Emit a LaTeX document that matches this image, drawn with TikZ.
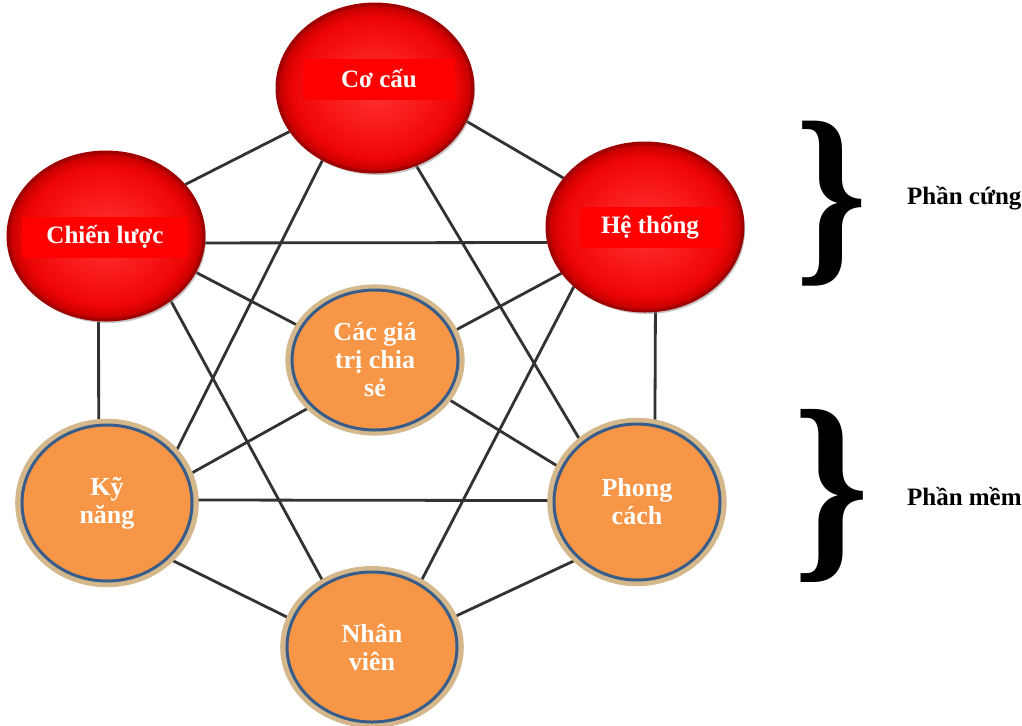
\documentclass[tikz,border=0pt]{standalone}
\usepackage{fontspec}
\setmainfont{Liberation Serif}
\usetikzlibrary{shapes.geometric, shadows, backgrounds}

\definecolor{rimred}{RGB}{160,0,0}
\definecolor{bandred}{RGB}{255,0,0}
\definecolor{ballorange}{RGB}{247,150,70}
\definecolor{rimblue}{RGB}{56,93,138}
\definecolor{ringtan}{RGB}{212,184,140}
\definecolor{linkgray}{RGB}{50,50,50}

\pgfdeclareradialshading{redglossy}{\pgfpoint{0bp}{0bp}}{%
  rgb(0bp)=(1,0.2,0.2); rgb(14bp)=(0.97,0.08,0.08); rgb(21bp)=(0.93,0.02,0.02);
  rgb(24bp)=(0.8,0,0); rgb(25bp)=(0.65,0,0); rgb(50bp)=(0.65,0,0)}

\begin{document}
\begin{tikzpicture}[
    x=0.5pt, y=-0.5pt,
    redball/.style={ellipse, inner sep=0pt, minimum width=98pt, minimum height=84pt,
                    draw=rimred, line width=1.5pt, shading=redglossy,
                    drop shadow={shadow xshift=1pt, shadow yshift=-1.5pt,
                                 fill=black!45, opacity=.5}},
    band/.style={fill=bandred, text=white, inner sep=0pt, minimum height=20.5pt,
                 font=\fontsize{12.5}{14}\selectfont\bfseries},
    orangeball/.style={ellipse, inner sep=0pt, fill=ballorange, draw=rimblue,
                       line width=1.5pt, text=white, align=center,
                       font=\fontsize{13}{14}\selectfont\bfseries,
                       drop shadow={shadow scale=1.08, shadow xshift=0pt,
                                    shadow yshift=0pt, fill=ringtan, opacity=1}},
    link/.style={draw=linkgray, line width=1.4pt},
    side/.style={font=\fontsize{12.5}{14}\selectfont\bfseries, anchor=west}
  ]
  \useasboundingbox (0,0) rectangle (1022,725);

  % Hard part
  \node[redball] (cocau) at (375,88) {};
  \node[redball] (chienluoc) at (106,236) {};
  \node[redball] (hethong) at (645,227) {};
  \node[band, minimum width=76pt] (cocau-t) at (379,79) {Cơ cấu};
  \node[band, minimum width=83pt] (chienluoc-t) at (105,237) {Chiến lược};
  \node[band, minimum width=70.5pt] (hethong-t) at (650,227) {Hệ thống};

  % Soft part
  \node[orangeball, minimum width=83pt, minimum height=70pt] (giatri) at (375,360)
    {Các giá\\trị chia\\sẻ};
  \node[orangeball, minimum width=85pt, minimum height=78pt] (kynang) at (107,503)
    {Kỹ\\năng};
  \node[orangeball, minimum width=83pt, minimum height=78pt] (phongcach) at (637,502)
    {Phong\\cách};
  \node[orangeball, minimum width=85pt, minimum height=75pt] (nhanvien) at (372,647)
    {Nhân\\viên};

  % Links
  \begin{scope}[on background layer]
    \fill[white] (0,0) rectangle (1022,725);
    \foreach \a/\b in {chienluoc.33/cocau.207, cocau.340/hethong.149,
                       chienluoc.356/hethong.189, chienluoc.338/giatri.156,
                       hethong.209/giatri.20, chienluoc.265/kynang.96,
                       hethong.277/phongcach.77, cocau.234/kynang.36,
                       cocau.298/phongcach.133, chienluoc.315/nhanvien.127,
                       hethong.220/nhanvien.53, kynang.2/phongcach.179,
                       kynang.19/giatri.216, giatri.332/phongcach.156,
                       kynang.318/nhanvien.161, phongcach.224/nhanvien.20}
      \draw[link] (\a) -- (\b);
  \end{scope}

  % Braces
  \node[inner sep=0pt] (brace-hard) at (832,204) {\resizebox*{36pt}{82.5pt}{\bfseries\}}};
  \node[inner sep=0pt] (brace-soft) at (832,496) {\resizebox*{38pt}{86.5pt}{\bfseries\}}};
  \node[side] (hard-lbl) at (900,198) {Phần cứng};
  \node[side] (soft-lbl) at (900,497) {Phần mềm};
\end{tikzpicture}
\end{document}
